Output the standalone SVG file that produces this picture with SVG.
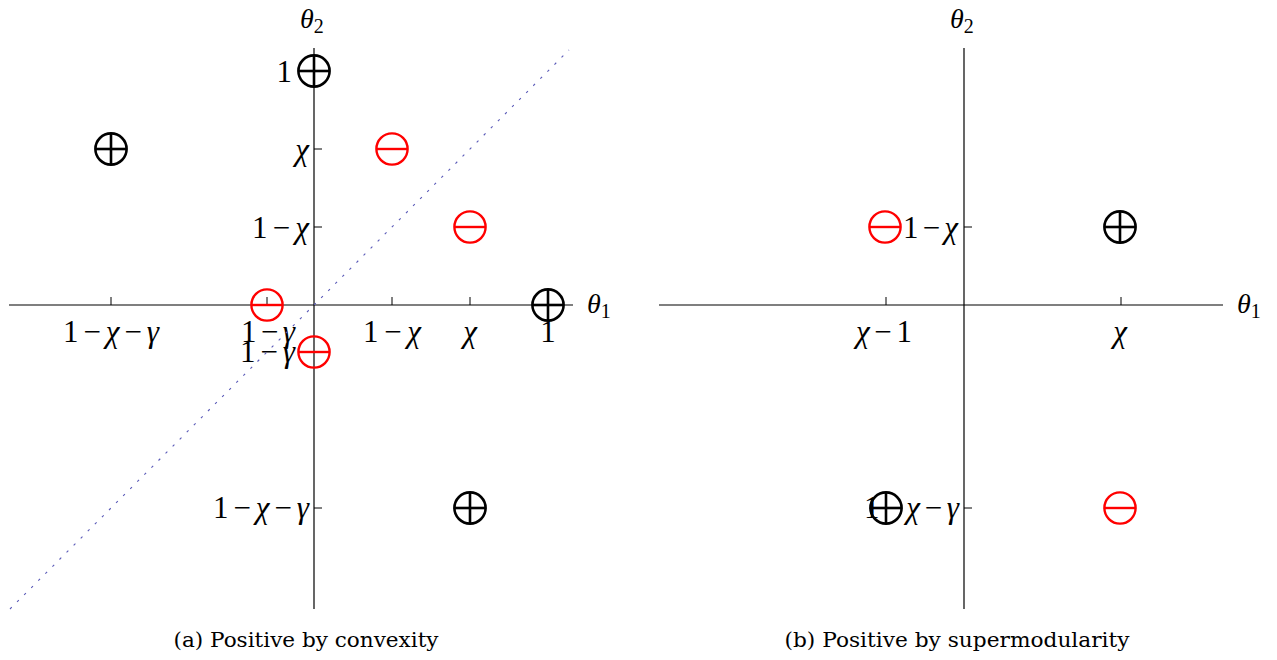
<svg xmlns="http://www.w3.org/2000/svg" width="1277" height="660" viewBox="0 0 1277 660">
<style>
.ax{stroke:#000;stroke-width:1.2;fill:none}
.tk{stroke:#000;stroke-width:1;fill:none}
.lbl{font-family:"Liberation Serif","Times New Roman",serif;font-size:31px;fill:#000}
.it{font-style:italic}
.th{font-family:"Liberation Serif","Times New Roman",serif;font-size:28px;font-style:italic;fill:#000}
.sub{font-size:20px;font-style:normal}
.cap{font-family:"DejaVu Serif","Liberation Serif",serif;font-size:20.5px;fill:#000}
.diag{stroke:#5a5ab8;stroke-width:1.1;stroke-dasharray:2.5 7.5;fill:none}
.pos circle,.pos line{stroke:#000;stroke-width:2.6;fill:none}
.neg circle,.neg line{stroke:#ff0000;stroke-width:2.4;fill:none}
</style>
<defs>
<g id="mplus" class="pos"><circle r="15.6"/><line x1="-15.6" y1="0" x2="15.6" y2="0"/><line x1="0" y1="-15.6" x2="0" y2="15.6"/></g>
<g id="mminus" class="neg"><circle r="15.6"/><line x1="-15.6" y1="0" x2="15.6" y2="0"/></g>
</defs>
<rect width="1277" height="660" fill="#fff"/>

<!-- Panel (a) -->
<g id="panel-a-axes">
<line class="ax" x1="9" y1="305" x2="573" y2="305"/>
<line class="ax" x1="314" y1="48" x2="314" y2="609"/>
<line class="tk" x1="111" y1="305" x2="111" y2="297"/>
<line class="tk" x1="267" y1="305" x2="267" y2="297"/>
<line class="tk" x1="392" y1="305" x2="392" y2="297"/>
<line class="tk" x1="470" y1="305" x2="470" y2="297"/>
<line class="tk" x1="548" y1="305" x2="548" y2="297"/>
<line class="tk" x1="314" y1="71" x2="322" y2="71"/>
<line class="tk" x1="314" y1="149" x2="322" y2="149"/>
<line class="tk" x1="314" y1="227" x2="322" y2="227"/>
<line class="tk" x1="314" y1="352" x2="322" y2="352"/>
<line class="tk" x1="314" y1="508" x2="322" y2="508"/>
</g>
<g id="panel-a-labels">
<text class="lbl" x="111" y="342" text-anchor="middle" textLength="96" lengthAdjust="spacing">1−<tspan class="it">χ</tspan>−<tspan class="it">γ</tspan></text>
<text class="lbl" x="268" y="342" text-anchor="middle" textLength="54" lengthAdjust="spacing">1−<tspan class="it">γ</tspan></text>
<text class="lbl" x="392" y="342" text-anchor="middle" textLength="58" lengthAdjust="spacing">1−<tspan class="it">χ</tspan></text>
<text class="lbl it" x="470" y="342" text-anchor="middle">χ</text>
<text class="lbl" x="548" y="342" text-anchor="middle">1</text>
<text class="lbl" x="292" y="82" text-anchor="end">1</text>
<text class="lbl it" x="309" y="160" text-anchor="end">χ</text>
<text class="lbl" x="309" y="238" text-anchor="end" textLength="57" lengthAdjust="spacing">1−<tspan class="it">χ</tspan></text>
<text class="lbl" x="295" y="362" text-anchor="end" textLength="55" lengthAdjust="spacing">1−<tspan class="it">γ</tspan></text>
<text class="lbl" x="309" y="518" text-anchor="end" textLength="96" lengthAdjust="spacing">1−<tspan class="it">χ</tspan>−<tspan class="it">γ</tspan></text>
<text class="th" x="587" y="313">θ<tspan class="sub" dy="5">1</tspan></text>
<text class="th" x="300" y="28">θ<tspan class="sub" dy="5">2</tspan></text>
<text class="cap" x="306" y="647" text-anchor="middle" textLength="265" lengthAdjust="spacingAndGlyphs">(a) Positive by convexity</text>
</g>
<g id="connectors">
<line class="diag" x1="10" y1="609" x2="569" y2="50"/>
</g>
<g id="a-p1"><use href="#mplus" x="314" y="71"/></g>
<g id="a-p2"><use href="#mplus" x="111" y="149"/></g>
<g id="a-m1"><use href="#mminus" x="392" y="149"/></g>
<g id="a-m2"><use href="#mminus" x="470" y="227"/></g>
<g id="a-m3"><use href="#mminus" x="267" y="305"/></g>
<g id="a-p3"><use href="#mplus" x="548" y="305"/></g>
<g id="a-m4"><use href="#mminus" x="314" y="352"/></g>
<g id="a-p4"><use href="#mplus" x="470" y="508"/></g>

<!-- Panel (b) -->
<g id="panel-b-axes">
<line class="ax" x1="659" y1="305" x2="1223" y2="305"/>
<line class="ax" x1="964" y1="48" x2="964" y2="609"/>
<line class="tk" x1="886" y1="305" x2="886" y2="297"/>
<line class="tk" x1="1121" y1="305" x2="1121" y2="297"/>
<line class="tk" x1="964" y1="227" x2="972" y2="227"/>
<line class="tk" x1="964" y1="508" x2="972" y2="508"/>
</g>
<g id="panel-b-labels">
<text class="lbl" x="884" y="342" text-anchor="middle" textLength="56" lengthAdjust="spacing"><tspan class="it">χ</tspan>−1</text>
<text class="lbl it" x="1120" y="342" text-anchor="middle">χ</text>
<text class="lbl" x="958" y="238" text-anchor="end" textLength="55" lengthAdjust="spacing">1−<tspan class="it">χ</tspan></text>
<text class="lbl" x="959" y="518" text-anchor="end" textLength="95" lengthAdjust="spacing">1−<tspan class="it">χ</tspan>−<tspan class="it">γ</tspan></text>
<text class="th" x="1237" y="313">θ<tspan class="sub" dy="5">1</tspan></text>
<text class="th" x="950" y="28">θ<tspan class="sub" dy="5">2</tspan></text>
<text class="cap" x="957" y="647" text-anchor="middle" textLength="345" lengthAdjust="spacingAndGlyphs">(b) Positive by supermodularity</text>
</g>
<g id="b-m1"><use href="#mminus" x="885" y="227"/></g>
<g id="b-p1"><use href="#mplus" x="1120" y="227"/></g>
<g id="b-p2"><use href="#mplus" x="886" y="508"/></g>
<g id="b-m2"><use href="#mminus" x="1120" y="508"/></g>
</svg>
